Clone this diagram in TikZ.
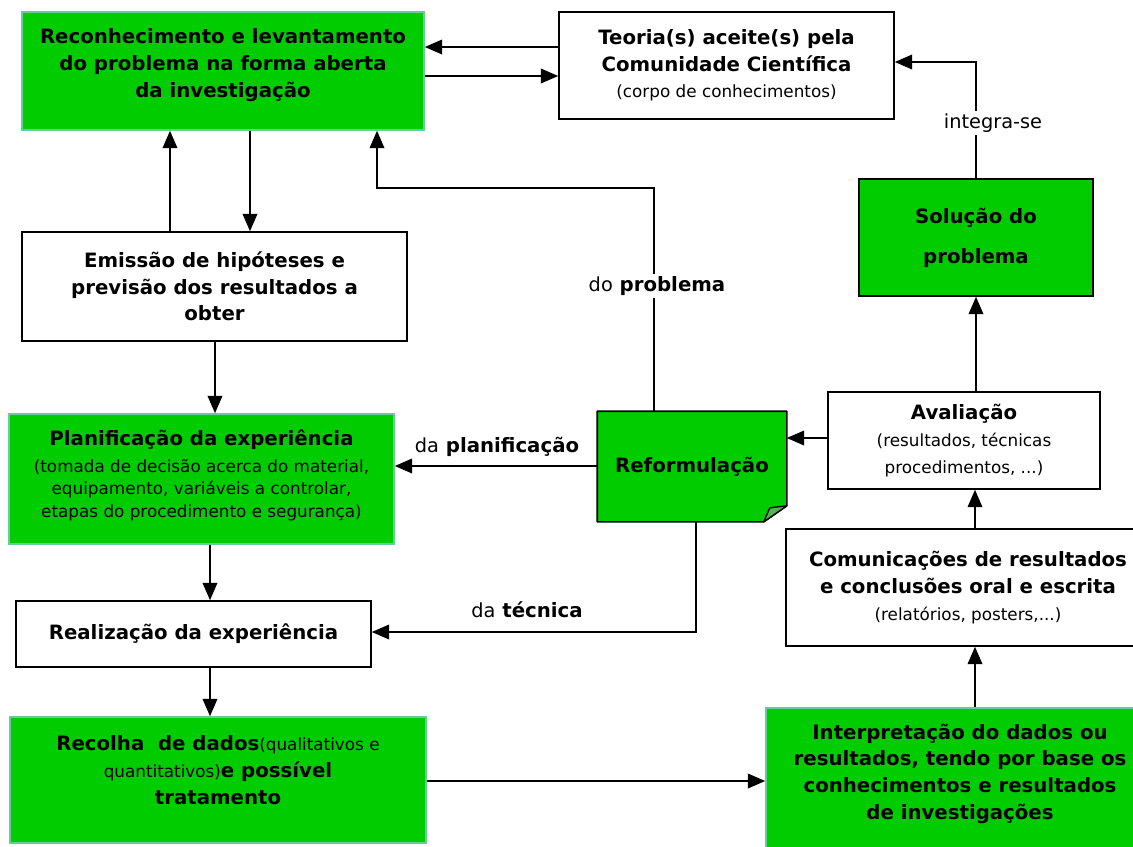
\documentclass[tikz,border=0pt]{standalone}
\usepackage{fontspec}
\setmainfont{DejaVu Sans}
\usetikzlibrary{arrows.meta,backgrounds}

\definecolor{verde}{HTML}{00CC00}
\definecolor{verdeborda}{HTML}{66CC99}
\definecolor{verdedobra}{HTML}{4DB84D}
\newcommand{\grande}{\fontsize{14.8}{20}\selectfont\bfseries}
\newcommand{\pequeno}{\fontsize{12.6}{17}\selectfont\mdseries}
\newcommand{\normalrot}{\fontsize{14.5}{17}\selectfont\mdseries}

\tikzset{
  caixa/.style={draw=black, line width=1.2pt, fill=white, inner sep=0pt, align=center, font=\grande},
  caixaverde/.style={caixa, fill=verde, draw=verdeborda},
  seta/.style={-{Triangle[length=13pt,width=11pt]}, line width=1.1pt},
  rotulo/.style={font=\grande, inner sep=2pt}
}

\begin{document}
\begin{tikzpicture}[x=0.75pt,y=-0.75pt]
\useasboundingbox (0,0) rectangle (1133,847);

% caixas
\node[caixaverde, minimum width=301.5pt, minimum height=88.5pt, text depth=12pt] (reconhec) at (223,71)
  {Reconhecimento e levantamento\\do problema na forma aberta\\da investigação};
\node[caixa, minimum width=251.25pt, minimum height=80.25pt] (teoria) at (726.5,65.5)
  {Teoria(s) aceite(s) pela\\Comunidade Científica\\{\pequeno (corpo de conhecimentos)}};
\node[caixa, minimum width=288.75pt, minimum height=81.75pt] (emissao) at (214.5,286.5)
  {Emissão de hipóteses e\\previsão dos resultados a\\obter};
\node[caixaverde, minimum width=288.75pt, minimum height=97.5pt, text depth=8pt] (planif) at (201.5,479)
  {Planificação da experiência\\{\pequeno (tomada de decisão acerca do material,}\\[-3pt]
   {\pequeno equipamento, variáveis a controlar,}\\[-3pt]
   {\pequeno etapas do procedimento e segurança)}};
\node[caixa, minimum width=266.25pt, minimum height=49.5pt] (realiz) at (193.5,634)
  {Realização da experiência};
\node[caixaverde, minimum width=312pt, minimum height=94.5pt, text depth=15pt] (recolha) at (218,780)
  {Recolha~ de dados{\pequeno(qualitativos e}\\{\pequeno quantitativos)}e possível\\tratamento};
\node[caixaverde, minimum width=291pt, minimum height=114pt, text depth=19pt] (interp) at (960,784)
  {Interpretação do dados ou\\resultados, tendo por base os\\conhecimentos e resultados\\de investigações};
\node[caixa, minimum width=273pt, minimum height=87.75pt] (comunic) at (968,587.5)
  {Comunicações de resultados\\e conclusões oral e escrita\\{\pequeno (relatórios, posters,...)}};
\node[caixa, minimum width=204pt, minimum height=72.75pt] (avali) at (964,440.5)
  {Avaliação\\{\pequeno (resultados, técnicas}\\{\pequeno procedimentos, ...)}};
\node[caixa, fill=none, draw=none, minimum width=141pt, minimum height=81.75pt] (reform) at (692,466.5)
  {Reformulação};
\node[caixa, fill=verde, minimum width=175.5pt, minimum height=87.75pt] (solucao) at (976,237.5)
  {Solução do\\[10pt]problema};

% folha dobrada
\begin{scope}[on background layer]
\filldraw[fill=verde, draw=black, line width=1.2pt, line join=round]
  (reform.north west) -- (reform.north east) -- ([yshift=12pt]reform.south east)
  -- ([xshift=-17.25pt]reform.south east) -- (reform.south west) -- cycle;
\filldraw[fill=verdedobra, draw=black, line width=1pt, line join=round]
  ([yshift=12pt]reform.south east) -- ([xshift=-17.25pt]reform.south east)
  -- ([xshift=-12.75pt,yshift=10.5pt]reform.south east) -- cycle;
\end{scope}

% pontos auxiliares
\coordinate (y47) at (0,47);
\coordinate (y76) at (0,76);
\coordinate (y62) at (0,62);
\coordinate (y188) at (0,188);
\coordinate (y438) at (0,438);
\coordinate (y466) at (0,466);
\coordinate (y632) at (0,632);
\coordinate (y781) at (0,781);
\coordinate (x170) at (170,0);
\coordinate (x210) at (210,0);
\coordinate (x215) at (215,0);
\coordinate (x250) at (250,0);
\coordinate (x377) at (377,0);
\coordinate (x654) at (654,0);
\coordinate (x696) at (696,0);
\coordinate (x975) at (975,0);

% setas
\draw[seta] (teoria.west |- y47) -- (reconhec.east |- y47);
\draw[seta] (reconhec.east |- y76) -- (teoria.west |- y76);
\draw[seta] (reconhec.south -| x250) -- (emissao.north -| x250);
\draw[seta] (emissao.north -| x170) -- (reconhec.south -| x170);
\draw[seta] (emissao.south -| x215) -- (planif.north -| x215);
\draw[seta] (planif.south -| x210) -- (realiz.north -| x210);
\draw[seta] (realiz.south -| x210) -- (recolha.north -| x210);
\draw[seta] (recolha.east |- y781) -- (interp.west |- y781);
\draw[seta] (interp.north -| x975) -- (comunic.south -| x975);
\draw[seta] (comunic.north -| x975) -- (avali.south -| x975);
\draw[seta] (avali.north -| solucao.south) -- (solucao.south);
\draw[seta] (avali.west |- y438) -- (reform.east |- y438);
\draw[seta] (reform.west |- y466) -- (planif.east |- y466);
\draw[seta] (reform.south -| x696) |- (realiz.east |- y632);
\draw[seta] (reform.north -| x654) |- (x377 |- y188) -- (reconhec.south -| x377);
\draw[seta] (solucao.north) |- (teoria.east |- y62);

% rotulos
\node[rotulo, fill=white] (integra) at (993,123) {\normalrot integra-se};
\node[rotulo, fill=white] (doprob) at (657,286) {{\normalrot do} problema};
\node[rotulo] (daplan) at (497,447) {{\normalrot da} planificação};
\node[rotulo] (datec) at (527,610) {{\normalrot da} técnica};

\end{tikzpicture}
\end{document}
